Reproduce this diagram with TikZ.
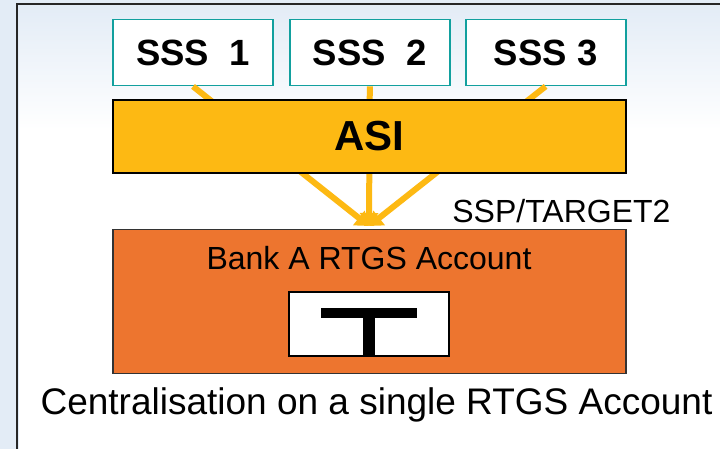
\documentclass[tikz,border=0pt]{standalone}
\usepackage{fontspec}
\setmainfont{Liberation Sans}
\usetikzlibrary{arrows.meta,positioning}
\definecolor{asiyellow}{HTML}{FDB913}
\definecolor{rtgsorange}{HTML}{ED752F}
\definecolor{ssteal}{HTML}{12A09E}
\definecolor{skytint}{HTML}{E3ECF6}

\begin{document}
\begin{tikzpicture}[
    x=1pt, y=-1pt,
    sss/.style={rectangle, draw=ssteal, line width=1.8pt, fill=white, minimum width=160pt, minimum height=66pt, inner sep=0pt, font=\fontsize{36.5}{36.5}\selectfont\bfseries},
    asi/.style={rectangle, draw=black, line width=1.5pt, fill=asiyellow, minimum width=513pt, minimum height=73pt, inner sep=0pt, font=\fontsize{42}{42}\selectfont\bfseries},
    account/.style={rectangle, draw=black!80, line width=1.2pt, fill=rtgsorange, minimum width=513pt, minimum height=144pt, inner sep=0pt},
    flow/.style={-{Triangle[width=18pt,length=13pt]}, asiyellow, line width=6pt},
    node distance=14pt
]
    \useasboundingbox (0,0) rectangle (720,449);
    \fill[skytint] (0,0) rectangle (720,449);
    \fill[white] (19,6) rectangle (720,449);
    \shade[top color=skytint, bottom color=white] (19,6) rectangle (720,130);
    \draw[black!85, line width=1.6pt] (17,449) -- (17,4) -- (720,4);

    % Settlement systems
    \node[sss] (sss1) at (193,52.5) {SSS\ \ 1};
    \node[sss, right=15pt of sss1] (sss2) {SSS\ \ 2};
    \node[sss, right=14pt of sss2] (sss3) {SSS 3};

    % Convergence point above the account
    \coordinate (tip) at (369,226);

    % Arrows (behind ASI)
    \draw[flow] (sss1.south) -- (tip);
    \draw[flow] (sss2.south) -- (tip);
    \draw[flow] (sss3.south) -- (tip);

    % Interface
    \node[asi] (asi) at (369.5,136.5) {ASI};

    % Account
    \node[account, below=55pt of asi] (bank) {};
    \node[font=\fontsize{32}{32}\selectfont] (banklabel) at (369,258) {Bank A RTGS Account};
    \node[rectangle, draw=black, line width=1.2pt, fill=white, minimum width=160pt, minimum height=64pt, inner sep=0pt] (tacc) at (369,324) {};
    \fill[black] (321,308) rectangle (417,318);
    \fill[black] (363,318) rectangle (375,356);

    % Labels
    \node[font=\fontsize{32}{32}\selectfont, anchor=east] (ssp) at (674,211) {SSP/TARGET2};
    \node[font=\fontsize{37}{37}\selectfont] (caption) at (376.5,405) {Centralisation on a single RTGS Account};
\end{tikzpicture}
\end{document}
